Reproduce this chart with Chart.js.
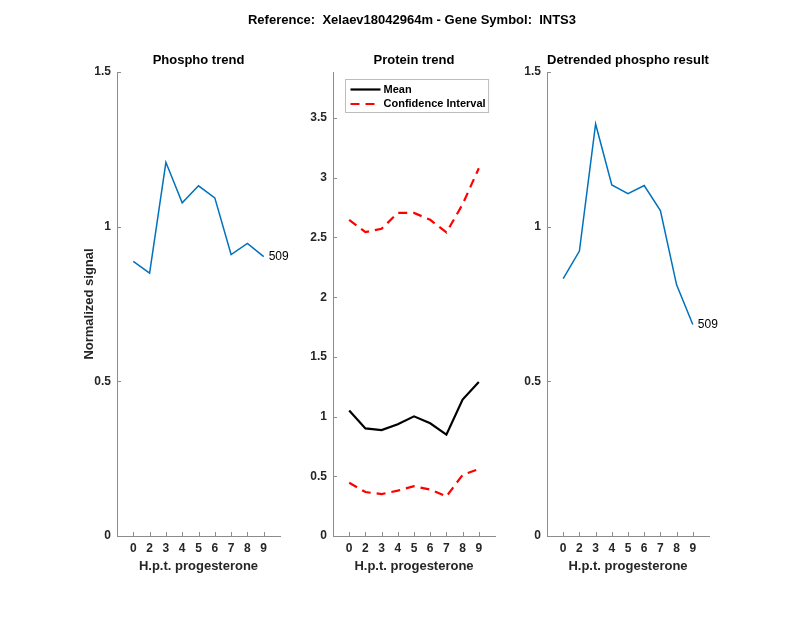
<!DOCTYPE html>
<html>
<head>
<meta charset="utf-8">
<script src="https://cdn.jsdelivr.net/npm/chart.js@4.4.1/dist/chart.umd.min.js"></script>
<style>
  html, body { margin: 0; padding: 0; background: #ffffff; width: 800px; height: 618px; overflow: hidden; }
  canvas { position: absolute; left: 0; top: 0; width: 800px; height: 618px; }
</style>
</head>
<body>
<canvas id="c1" width="800" height="618"></canvas>
<canvas id="c2" width="800" height="618"></canvas>
<canvas id="c3" width="800" height="618"></canvas>
<script>
// ---------------- data ----------------
const hptLabels = ['0', '2', '3', '4', '5', '6', '7', '8', '9'];
const phosphoTrend = [0.888, 0.850, 1.208, 1.077, 1.132, 1.093, 0.910, 0.946, 0.903];
const proteinMean = [1.051, 0.901, 0.887, 0.936, 1.002, 0.944, 0.849, 1.143, 1.290];
const proteinCIUpper = [2.648, 2.545, 2.573, 2.706, 2.706, 2.648, 2.542, 2.778, 3.080];
const proteinCILower = [0.446, 0.368, 0.351, 0.380, 0.417, 0.389, 0.331, 0.512, 0.561];
const detrendedPhospho = [0.832, 0.921, 1.332, 1.135, 1.107, 1.133, 1.052, 0.812, 0.684];
const peptideLabel = '509';
const phosphoYTicks = [0, 0.5, 1, 1.5];
const proteinYTicks = [0, 0.5, 1, 1.5, 2, 2.5, 3, 3.5];
const phosphoYMax = 1.5;
const proteinYMax = 3.886;
const mainTitle = 'Reference:  Xelaev18042964m - Gene Symbol:  INTS3';
const panelTitles = ['Phospho trend', 'Protein trend', 'Detrended phospho result'];
const xAxisTitle = 'H.p.t. progesterone';
const yAxisTitle = 'Normalized signal';

// ---------------- styles ----------------
const FONT = "'Liberation Sans', Arial, Helvetica, sans-serif";
const AXIS_COLOR = '#8c8c8c';
const TEXT_COLOR = '#262626';
const BLUE = '#0072BD';
const DASH = [9, 6];

const toPts = arr => arr.map((v, i) => ({ x: i, y: v }));

// inward MATLAB-like tick marks
const inwardTicks = {
  id: 'inwardTicks',
  afterDatasetsDraw(chart) {
    const ctx = chart.ctx;
    const xs = chart.scales.x, ys = chart.scales.y;
    const a = chart.chartArea;
    ctx.save();
    ctx.strokeStyle = AXIS_COLOR;
    ctx.lineWidth = 1;
    ctx.beginPath();
    xs.ticks.forEach(t => {
      const px = Math.round(xs.getPixelForValue(t.value)) + 0.5;
      ctx.moveTo(px, a.bottom);
      ctx.lineTo(px, a.bottom - 4);
    });
    ys.ticks.forEach(t => {
      const py = Math.round(ys.getPixelForValue(t.value)) + 0.5;
      ctx.moveTo(a.left, py);
      ctx.lineTo(a.left + 4, py);
    });
    ctx.stroke();
    ctx.restore();
  }
};

// panel title + optional figure title + end labels + legend
const decorations = {
  id: 'decorations',
  afterDraw(chart, args, opts) {
    const ctx = chart.ctx;
    const a = chart.chartArea;
    ctx.save();
    ctx.fillStyle = '#000';
    ctx.textAlign = 'center';
    ctx.textBaseline = 'middle';
    ctx.font = 'bold 13px ' + FONT;
    if (opts.title) ctx.fillText(opts.title, (a.left + a.right) / 2, 60);
    if (opts.figureTitle) ctx.fillText(opts.figureTitle, opts.figureTitleX, 20);
    // end-of-line labels
    if (opts.endLabel) {
      const ds = chart.data.datasets[0];
      const last = ds.data[ds.data.length - 1];
      const px = chart.scales.x.getPixelForValue(last.x);
      const py = chart.scales.y.getPixelForValue(last.y);
      ctx.font = '12px ' + FONT;
      ctx.textAlign = 'left';
      ctx.fillText(opts.endLabel, px + 5, py);
    }
    // legend
    if (opts.legend) {
      const items = chart.data.datasets.filter(d => d.showInLegend);
      ctx.font = 'bold 11px ' + FONT;
      const tw = Math.max(...items.map(d => ctx.measureText(d.label).width));
      const bx = a.left + 12.5, by = a.top + 7.5;
      const bw = 5 + 30 + 3 + tw + 3, bh = 33;
      ctx.fillStyle = '#fff';
      ctx.fillRect(bx, by, bw, bh);
      ctx.strokeStyle = '#bdbdbd';
      ctx.lineWidth = 1;
      ctx.strokeRect(bx, by, bw, bh);
      items.forEach((d, i) => {
        const cy = by + 10 + i * 14.5;
        ctx.strokeStyle = d.borderColor;
        ctx.lineWidth = d.borderWidth;
        ctx.setLineDash(d.borderDash || []);
        ctx.beginPath();
        ctx.moveTo(bx + 5, cy);
        ctx.lineTo(bx + 35, cy);
        ctx.stroke();
        ctx.setLineDash([]);
        ctx.fillStyle = '#000';
        ctx.textAlign = 'left';
        ctx.textBaseline = 'middle';
        ctx.fillText(d.label, bx + 38, cy);
      });
    }
    ctx.restore();
  }
};

function makeChart(id, area, datasets, yMax, yTicks, withYTitle, decoOpts) {
  const yw = withYTitle ? area.left - 72 : 40;
  return new Chart(document.getElementById(id), {
    type: 'line',
    data: { datasets },
    plugins: [inwardTicks, decorations],
    options: {
      responsive: false,
      animation: false,
      events: [],
      layout: { padding: { left: area.left - yw, right: 800 - area.right, top: 72, bottom: 618 - 536 - 50 } },
      plugins: { legend: { display: false }, tooltip: { enabled: false }, decorations: decoOpts },
      elements: { point: { radius: 0 }, line: { tension: 0 } },
      scales: {
        x: {
          type: 'linear', min: -1, max: hptLabels.length,
          afterBuildTicks: s => { s.ticks = hptLabels.map((_, i) => ({ value: i })); },
          ticks: {
            callback: v => hptLabels[v] !== undefined ? hptLabels[v] : '',
            font: { family: FONT, size: 12, weight: 'bold' }, color: TEXT_COLOR,
            padding: 5, maxRotation: 0, autoSkip: false
          },
          grid: { display: true, drawOnChartArea: false, drawTicks: false },
          border: { display: true, color: AXIS_COLOR, width: 1 },
          title: { display: true, text: xAxisTitle, font: { family: FONT, size: 13, weight: 'bold' }, color: TEXT_COLOR, padding: { top: 0, bottom: 12 } },
          afterFit: s => { s.height = 50; s.paddingLeft = 0; s.paddingRight = 0; }
        },
        y: {
          type: 'linear', min: 0, max: yMax,
          afterBuildTicks: s => { s.ticks = yTicks.map(v => ({ value: v })); },
          ticks: {
            callback: v => String(v),
            font: { family: FONT, size: 12, weight: 'bold' }, color: TEXT_COLOR, padding: 6
          },
          grid: { display: true, drawOnChartArea: false, drawTicks: false },
          border: { display: true, color: AXIS_COLOR, width: 1 },
          title: { display: withYTitle, text: yAxisTitle, font: { family: FONT, size: 13, weight: 'bold' }, color: TEXT_COLOR, padding: { top: 10, bottom: 0 } },
          afterFit: s => { s.width = yw; s.paddingTop = 0; s.paddingBottom = 0; }
        }
      }
    }
  });
}

makeChart('c1', { left: 117, right: 280 }, [
  { label: 'Phospho', data: toPts(phosphoTrend), borderColor: BLUE, borderWidth: 1.5, fill: false }
], phosphoYMax, phosphoYTicks, true, {
  title: panelTitles[0], endLabel: peptideLabel, figureTitle: mainTitle, figureTitleX: (117 + 709) / 2 - 1
});

makeChart('c2', { left: 333, right: 495 }, [
  { label: 'Mean', showInLegend: true, data: toPts(proteinMean), borderColor: '#000000', borderWidth: 2.2, fill: false },
  { label: 'Confidence Interval', showInLegend: true, data: toPts(proteinCIUpper), borderColor: '#ff0000', borderWidth: 2.2, borderDash: DASH, fill: false },
  { label: 'Confidence Interval (lower)', data: toPts(proteinCILower), borderColor: '#ff0000', borderWidth: 2.2, borderDash: DASH, fill: false }
], proteinYMax, proteinYTicks, false, { title: panelTitles[1], legend: true });

makeChart('c3', { left: 547, right: 709 }, [
  { label: 'Detrended', data: toPts(detrendedPhospho), borderColor: BLUE, borderWidth: 1.5, fill: false }
], phosphoYMax, phosphoYTicks, false, { title: panelTitles[2], endLabel: peptideLabel });
</script>
</body>
</html>
